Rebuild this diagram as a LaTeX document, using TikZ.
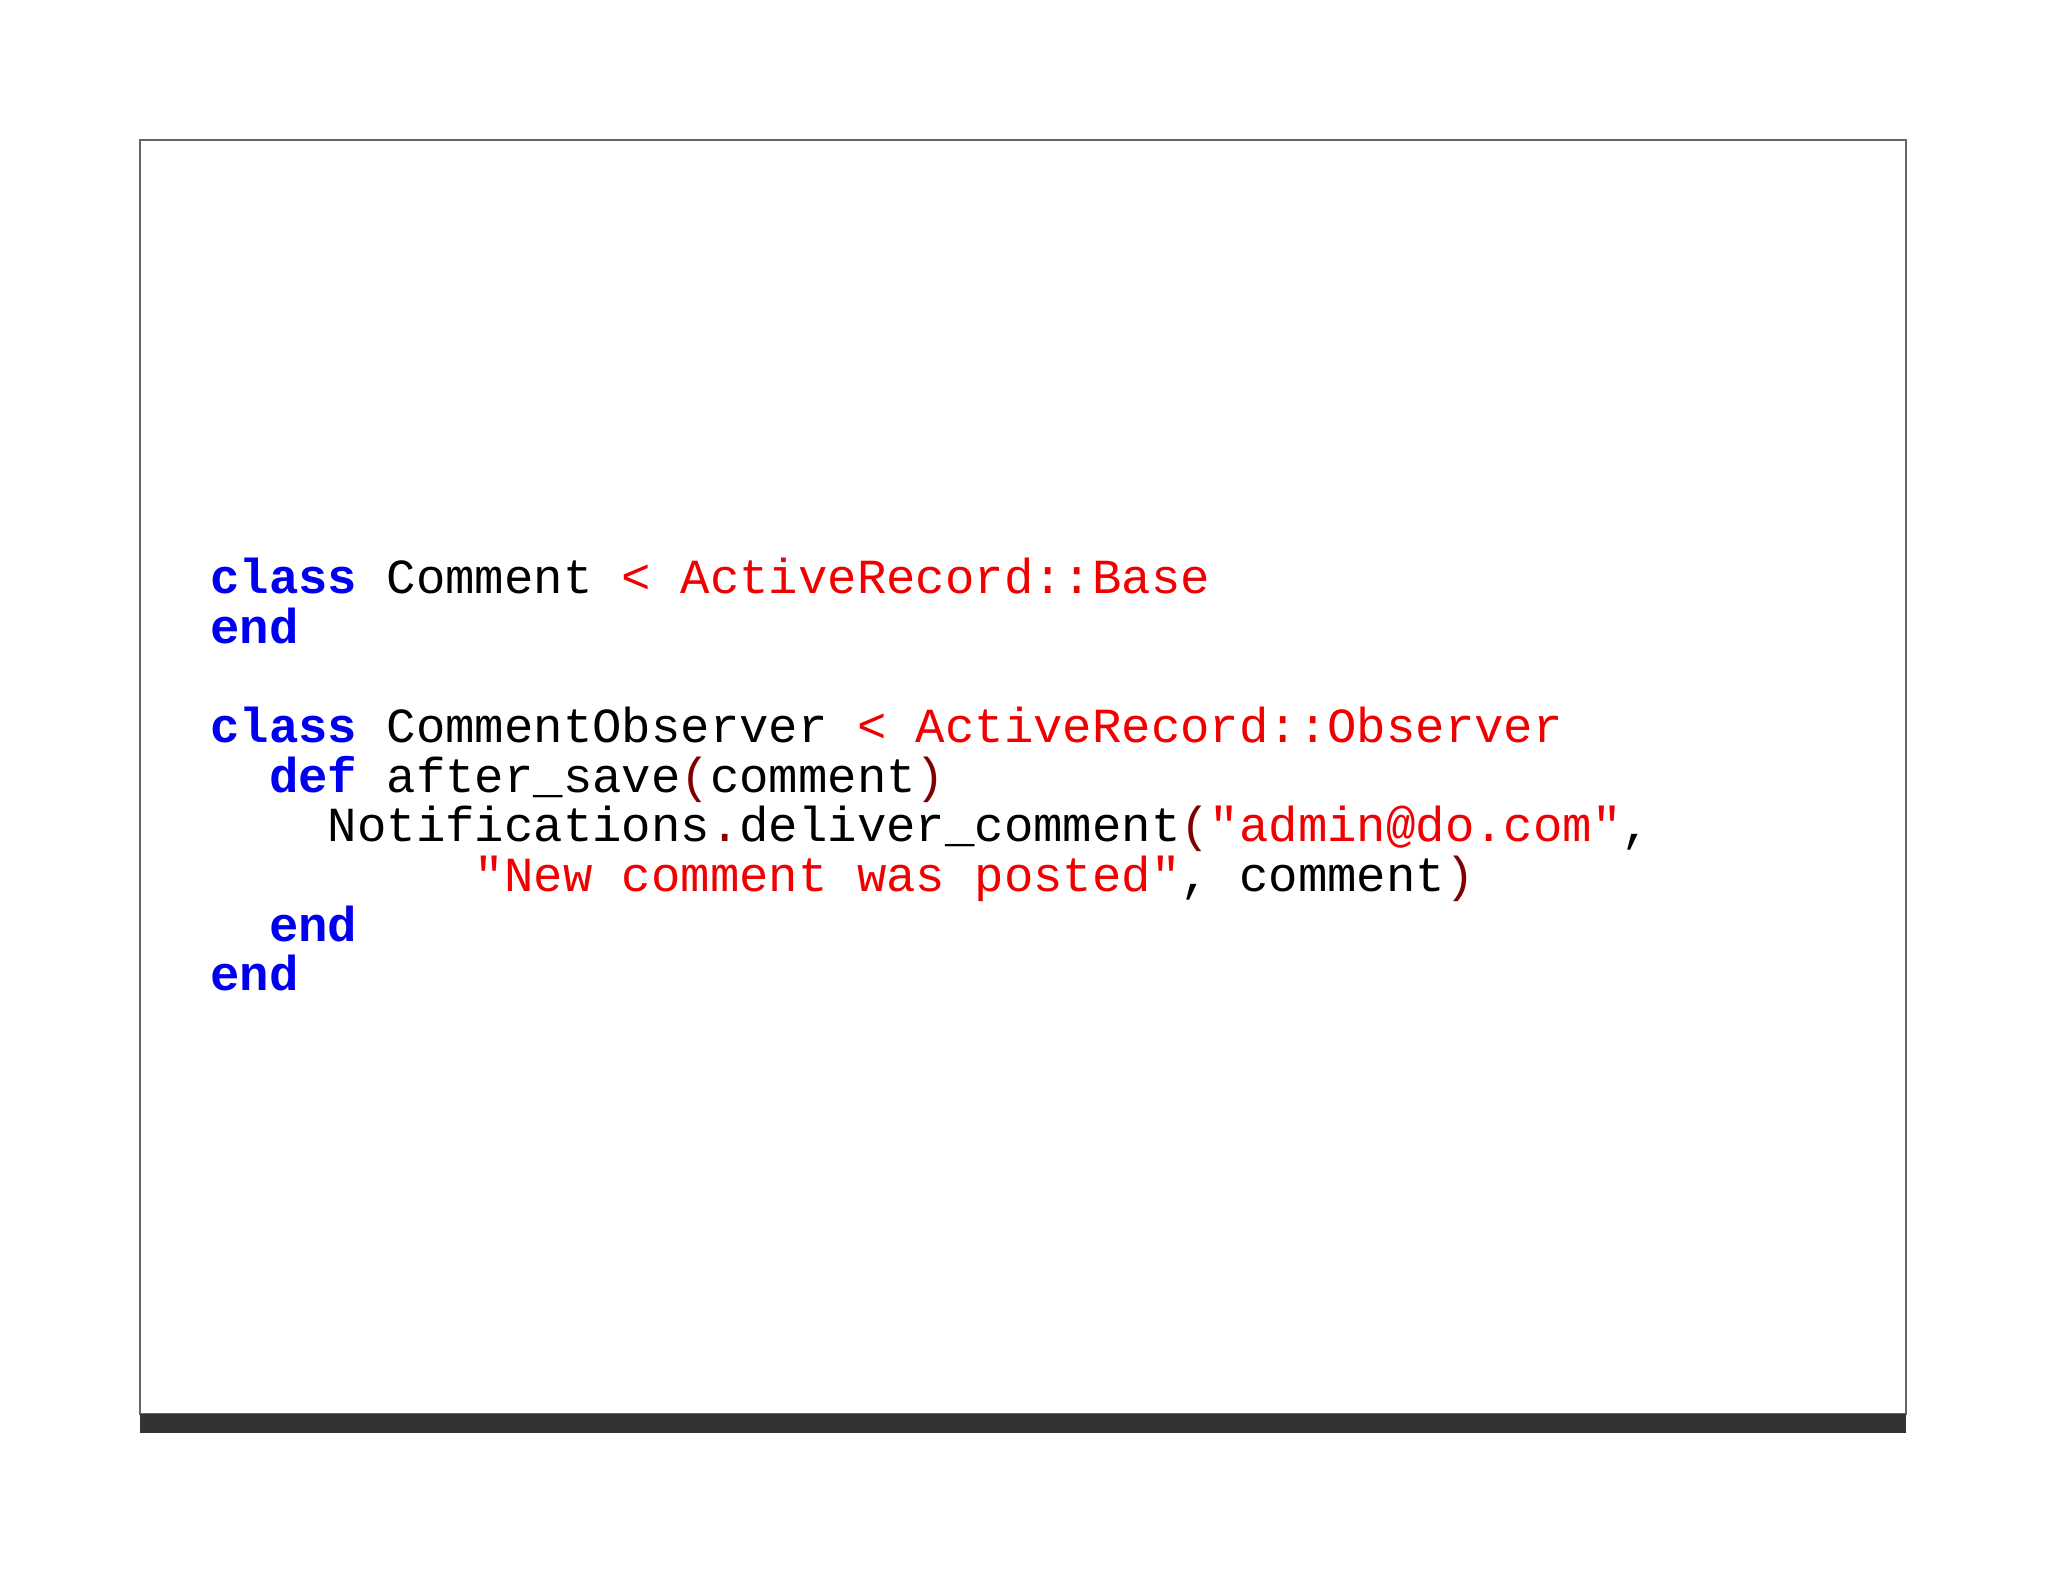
\documentclass[tikz,border=0pt]{standalone}
\usepackage{fontspec}
\setmonofont{Liberation Mono}
\definecolor{kw}{RGB}{0,0,240}
\definecolor{st}{RGB}{240,0,0}
\definecolor{pr}{RGB}{128,0,0}
\newcommand{\cK}[1]{\textcolor{kw}{\bfseries #1}}
\newcommand{\cR}[1]{\textcolor{st}{#1}}
\newcommand{\cP}[1]{\textcolor{pr}{#1}}
\tikzset{codeline/.style={anchor=base west,inner sep=0pt,font=\fontsize{49}{50}\selectfont\ttfamily}}
\begin{document}
\begin{tikzpicture}[x=1pt,y=1pt]
\useasboundingbox (0,0) rectangle (2048,1582);
\fill[white] (0,0) rectangle (2048,1582);
\draw[gray!80!black,line width=1.5pt] (140,168) rectangle (1906,1442);
\fill[black!80] (140,149) rectangle (1906,168);
\def\cw{29.4}
\node[codeline] (l1) at (210,988) {\cK{class} Comment \cR{< ActiveRecord::Base}};
\node[codeline] (l2) at (210,938) {\cK{end}};
\node[codeline] (l4) at (210,839) {\cK{class} CommentObserver \cR{< ActiveRecord::Observer}};
\node[codeline] (l5) at (210+2*\cw,789) {\cK{def} after\_save\cP{(}comment\cP{)}};
\node[codeline] (l6) at (210+4*\cw,740) {Notifications\cP{.}deliver\_comment\cP{(}\cR{"admin@do.com"},};
\node[codeline] (l7) at (210+9*\cw,690) {\cR{"New comment was posted"}, comment\cP{)}};
\node[codeline] (l8) at (210+2*\cw,640) {\cK{end}};
\node[codeline] (l9) at (210,591) {\cK{end}};
\end{tikzpicture}
\end{document}
